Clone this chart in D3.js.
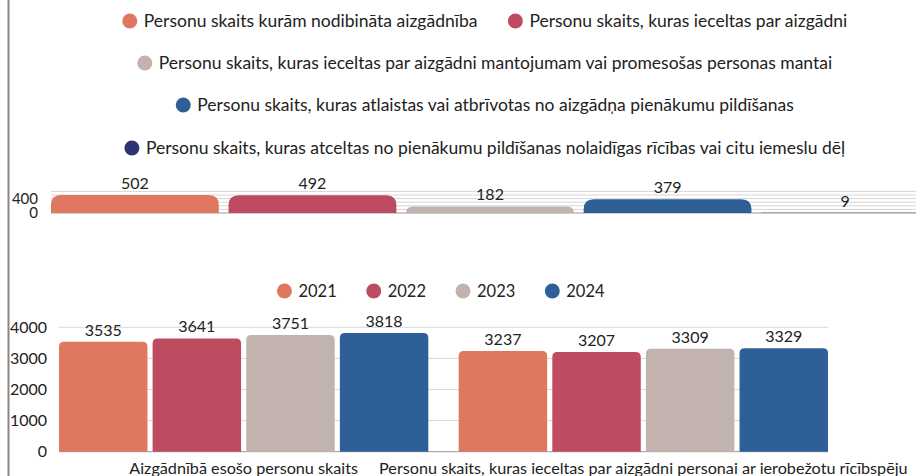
<!DOCTYPE html>
<html>
<head>
<meta charset="utf-8">
<script src="https://cdn.jsdelivr.net/npm/d3@7"></script>
<style>
  body { margin: 0; background: #fff; }
  svg { display: block; font-family: Lato, "Noto Sans", sans-serif; }
</style>
</head>
<body>
<div id="chart"></div>
<script>
const topCategories = [
  "Personu skaits kurām nodibināta aizgādnība",
  "Personu skaits, kuras ieceltas par aizgādni",
  "Personu skaits, kuras ieceltas par aizgādni mantojumam vai promesošas personas mantai",
  "Personu skaits, kuras atlaistas vai atbrīvotas no aizgādņa pienākumu pildīšanas",
  "Personu skaits, kuras atceltas no pienākumu pildīšanas nolaidīgas rīcības vai citu iemeslu dēļ"
];
const topValues = [502, 492, 182, 379, 9];
const topColors = ["#e0785f", "#be4b5f", "#c2b3af", "#2e5f97", "#2d3470"];
const topTickLabels = [0, 400];
const topGrid = [100, 200, 300, 400, 500, 600];

const years = ["2021", "2022", "2023", "2024"];
const groups = ["Aizgādnībā esošo personu skaits", "Personu skaits, kuras ieceltas par aizgādni personai ar ierobežotu rīcībspēju"];
const values2021 = [3535, 3237];
const values2022 = [3641, 3207];
const values2023 = [3751, 3309];
const values2024 = [3818, 3329];
const yearColors = ["#e0785f", "#be4b5f", "#c2b3af", "#2e5f97"];
const bottomTicks = [0, 1000, 2000, 3000, 4000];

const W = 916, H = 476;
const svg = d3.select("#chart").append("svg").attr("width", W).attr("height", H);

// left border line
svg.append("line").attr("x1", 8.5).attr("x2", 8.5).attr("y1", 0).attr("y2", H)
  .attr("stroke", "#8f8583").attr("stroke-width", 2);

// rounded top bar path
function topRounded(x, y, w, h, r) {
  r = Math.min(r, h, w / 2);
  return `M${x},${y + h} V${y + r} Q${x},${y} ${x + r},${y} H${x + w - r} Q${x + w},${y} ${x + w},${y + r} V${y + h} Z`;
}

// ---------- top legend ----------
const legendRows = [[0, 1], [2], [3], [4]];
const rowY = [21, 63, 105, 148];
const legendCenter = 485;
legendRows.forEach((row, ri) => {
  const g = svg.append("g");
  let x = 0;
  row.forEach((idx, k) => {
    const item = g.append("g").attr("transform", `translate(${x},0)`);
    item.append("circle").attr("cx", 7).attr("cy", 0).attr("r", 7.5).attr("fill", topColors[idx]);
    const t = item.append("text").attr("x", 21).attr("y", 0).attr("dy", "0.35em")
      .attr("font-size", 17.5).attr("fill", "#222").text(topCategories[idx]);
    x += 21 + t.node().getComputedTextLength() + 31;
  });
  const width = x - 31;
  g.attr("transform", `translate(${legendCenter - width / 2},${rowY[ri]})`);
});

// ---------- top chart ----------
const tX = d3.scaleBand().domain(topCategories).range([51, 929]).paddingInner(0.055).paddingOuter(0);
const tY = d3.scaleLinear().domain([0, 600]).range([213, 191.4]);

svg.append("g").selectAll("line").data(topGrid).enter().append("line")
  .attr("x1", 51).attr("x2", W).attr("y1", d => tY(d)).attr("y2", d => tY(d))
  .attr("stroke", "#d6d6d6").attr("stroke-width", 1);

svg.append("line").attr("x1", 51).attr("x2", W).attr("y1", tY(0)).attr("y2", tY(0))
  .attr("stroke", "#999").attr("stroke-width", 1);

svg.append("g").selectAll("path").data(topValues).enter().append("path")
  .attr("d", (d, i) => topRounded(tX(topCategories[i]), tY(d), tX.bandwidth(), tY(0) - tY(d), 10))
  .attr("fill", (d, i) => topColors[i]);

svg.append("g").selectAll("text").data(topValues).enter().append("text")
  .attr("x", (d, i) => tX(topCategories[i]) + tX.bandwidth() / 2)
  .attr("y", d => tY(d) - 6)
  .attr("text-anchor", "middle").attr("font-size", 16).attr("fill", "#222")
  .text(d => d);

svg.append("g").selectAll("text").data(topTickLabels).enter().append("text")
  .attr("x", 38).attr("y", d => tY(d)).attr("dy", "0.35em")
  .attr("text-anchor", "end").attr("font-size", 15).attr("fill", "#222")
  .text(d => d);

// ---------- bottom legend ----------
const bl = svg.append("g");
let bx = 0;
years.forEach((yr, i) => {
  const item = bl.append("g").attr("transform", `translate(${bx},0)`);
  item.append("circle").attr("cx", 7).attr("cy", 0).attr("r", 7.5).attr("fill", yearColors[i]);
  const t = item.append("text").attr("x", 21).attr("y", 0).attr("dy", "0.35em")
    .attr("font-size", 16.5).attr("fill", "#222").text(yr);
  bx += 21 + t.node().getComputedTextLength() + 30;
});
bl.attr("transform", `translate(${441 - (bx - 30) / 2},291)`);

// ---------- bottom chart ----------
const series = [values2021, values2022, values2023, values2024];
const x0 = d3.scaleBand().domain(groups).range([59, 828]).paddingInner(0.076).paddingOuter(0);
const x1 = d3.scaleBand().domain(years).range([0, x0.bandwidth()]).paddingInner(0.055).paddingOuter(0);
const y = d3.scaleLinear().domain([0, 4000]).range([451.7, 327.3]);

svg.append("g").selectAll("line").data(bottomTicks.slice(1)).enter().append("line")
  .attr("x1", 59).attr("x2", 828).attr("y1", d => y(d)).attr("y2", d => y(d))
  .attr("stroke", "#d9d9d9").attr("stroke-width", 1);

svg.append("line").attr("x1", 59).attr("x2", 828).attr("y1", y(0)).attr("y2", y(0))
  .attr("stroke", "#999").attr("stroke-width", 1);

const gBars = svg.append("g");
groups.forEach((grp, gi) => {
  years.forEach((yr, yi) => {
    const v = series[yi][gi];
    const bxp = x0(grp) + x1(yr);
    gBars.append("path")
      .attr("d", topRounded(bxp, y(v), x1.bandwidth(), y(0) - y(v), 5))
      .attr("fill", yearColors[yi]);
    gBars.append("text")
      .attr("x", bxp + x1.bandwidth() / 2).attr("y", y(v) - 6)
      .attr("text-anchor", "middle").attr("font-size", 16).attr("fill", "#222")
      .text(v);
  });
  svg.append("text")
    .attr("x", x0(grp) + x0.bandwidth() / 2).attr("y", 468).attr("dy", "0.35em")
    .attr("text-anchor", "middle").attr("font-size", 16.2).attr("fill", "#222")
    .text(grp);
});

svg.append("g").selectAll("text").data(bottomTicks).enter().append("text")
  .attr("x", 47).attr("y", d => y(d)).attr("dy", "0.35em")
  .attr("text-anchor", "end").attr("font-size", 16).attr("fill", "#222")
  .text(d => d);
</script>
</body>
</html>
